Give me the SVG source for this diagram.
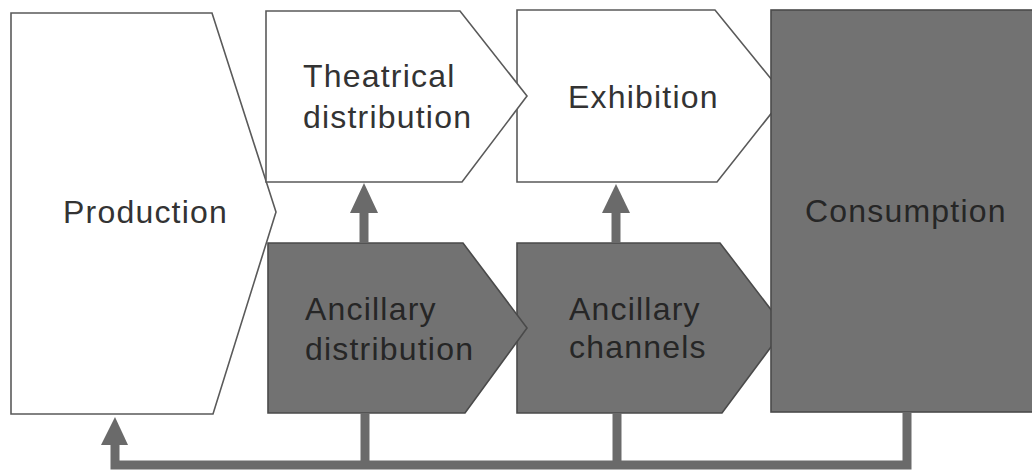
<svg xmlns="http://www.w3.org/2000/svg" width="1032" height="471" viewBox="0 0 1032 471">
<style>
.light{fill:#ffffff;stroke:#5a5a5a;stroke-width:1.6;stroke-linejoin:miter}
.dark{fill:#727272;stroke:#4a4a4a;stroke-width:1.6}
.t{font-family:"Liberation Sans",Arial,sans-serif;font-size:32px;letter-spacing:1.2px}
.tl{fill:#333333}
.td{fill:#262626}
.conn{fill:none;stroke:#6a6a6a;stroke-width:9;stroke-linejoin:miter}
.head{fill:#6a6a6a}
</style>
<rect width="1032" height="471" fill="#ffffff"/>
<g id="production">
<polygon class="light" points="11,13 212,13 276,212 213,414 11,414"/>
<text class="t tl" x="63" y="223">Production</text>
</g>
<g id="exhibition">
<polygon class="light" points="517,10 715,10 785,96 717,182 517,182"/>
<text class="t tl" x="568" y="108">Exhibition</text>
</g>
<g id="theatrical">
<polygon class="light" points="266,11 460,11 527,96 462,182 266,182"/>
<text class="t tl" x="303" y="87">Theatrical</text>
<text class="t tl" x="303" y="128">distribution</text>
</g>
<g id="ancillary-channels">
<polygon class="dark" points="517,243 720,243 785,328 722,413 517,413"/>
<text class="t td" x="569" y="320">Ancillary</text>
<text class="t td" x="569" y="358">channels</text>
</g>
<g id="ancillary-distribution">
<polygon class="dark" points="268,243 463,243 527,328 465,413 268,413"/>
<text class="t td" x="305" y="320">Ancillary</text>
<text class="t td" x="305" y="360">distribution</text>
</g>
<g id="consumption">
<rect class="dark" x="771" y="10" width="265" height="402"/>
<text class="t td" x="805" y="222">Consumption</text>
</g>
<g id="connectors">
<line class="conn" x1="364" y1="243" x2="364" y2="210"/>
<polygon class="head" points="364,183 378,213 350,213"/>
<line class="conn" x1="616" y1="243" x2="616" y2="210"/>
<polygon class="head" points="616,184 630,213 602,213"/>
<polyline class="conn" points="907,412 907,465 115,465 115,442"/>
<line class="conn" x1="365" y1="413" x2="365" y2="465"/>
<line class="conn" x1="617" y1="413" x2="617" y2="465"/>
<polygon class="head" points="115,417 128,445 101,445"/>
</g>
</svg>
